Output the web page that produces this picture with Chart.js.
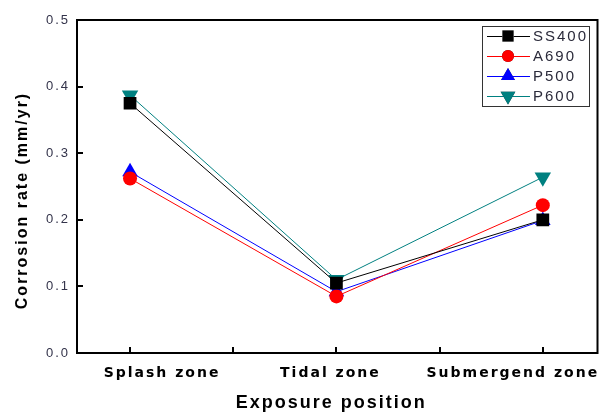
<!DOCTYPE html>
<html>
<head>
<meta charset="utf-8">
<script src="https://cdn.jsdelivr.net/npm/chart.js@4"></script>
<style>
  html, body { margin: 0; padding: 0; background: #fff; }
  #wrap { width: 607px; height: 412px; }
</style>
</head>
<body>
<div id="wrap"><canvas id="rateChart" width="607" height="412"></canvas></div>
<script>
// exposure positions on the x axis
const zones = ["Splash zone", "Tidal zone", "Submergend zone"];
const yTicks = [0.0, 0.1, 0.2, 0.3, 0.4, 0.5];

// corrosion rate (mm/yr) per steel
const ss400 = [0.375, 0.105, 0.200];
const a690 = [0.262, 0.085, 0.222];
const p500 = [0.272, 0.092, 0.199];
const p600 = [0.387, 0.110, 0.264];

const toPoints = (arr) => arr.map((v, i) => ({ x: i + 1, y: v }));

function series(label, data, color, style, radius) {
  return {
    label: label,
    data: toPoints(data),
    borderColor: color,
    backgroundColor: color,
    borderWidth: 1,
    pointStyle: style,
    pointRadius: radius,
    pointHoverRadius: radius,
    pointBorderWidth: 0,
    tension: 0,
  };
}

const datasets = [
  series("SS400", ss400, "#000000", "rect", 9),
  series("A690", a690, "#ff0000", "circle", 7),
  series("P500", p500, "#0000ff", "triangle", 9),
  series("P600", p600, "#008080", "triangle", 9.5),
];
datasets[3].pointRotation = 180;

const sans = "'Liberation Sans', Arial, sans-serif";

// the original uses a wide, letter-spaced typeface
const spacingPlugin = {
  id: "spacing",
  beforeLayout(chart) { chart.ctx.letterSpacing = "2px"; },
  beforeDraw(chart) { chart.ctx.letterSpacing = "2px"; },
};

// frame, inward ticks, category labels (set off the ticks like the original) and axis titles
const framePlugin = {
  id: "frame",
  afterDatasetsDraw(chart) {
    const { ctx, chartArea: a, scales } = chart;
    ctx.save();
    ctx.strokeStyle = "#000";
    ctx.lineWidth = 2;
    ctx.strokeRect(a.left, a.top, a.right - a.left, a.bottom - a.top);
    yTicks.forEach((v) => {
      const y = Math.round(scales.y.getPixelForValue(v));
      ctx.beginPath();
      ctx.moveTo(a.left, y);
      ctx.lineTo(a.left + 6, y);
      ctx.stroke();
    });
    [1, 1.5, 2, 2.5, 3].forEach((v) => {
      const x = Math.round(scales.x.getPixelForValue(v));
      ctx.beginPath();
      ctx.moveTo(x, a.bottom);
      ctx.lineTo(x, a.bottom - 6);
      ctx.stroke();
    });

    ctx.fillStyle = "#000";
    ctx.textAlign = "center";
    ctx.textBaseline = "middle";
    ctx.letterSpacing = "2px";
    ctx.font = "bold 14px 'DejaVu Sans', sans-serif";
    const shift = [32, -6, -30];
    zones.forEach((z, i) => {
      ctx.fillText(z, scales.x.getPixelForValue(i + 1) + shift[i], a.bottom + 20);
    });

    ctx.font = "bold 18px " + sans;
    ctx.fillText("Exposure position", (a.left + a.right) / 2 - 6, 403);

    ctx.translate(23, (a.top + a.bottom) / 2 + 14);
    ctx.rotate(-Math.PI / 2);
    ctx.font = "bold 16px " + sans;
    ctx.fillText("Corrosion rate (mm/yr)", 0, 0);
    ctx.restore();
  },
};

// legend box in the upper right corner
const legendPlugin = {
  id: "boxLegend",
  afterDraw(chart) {
    const ctx = chart.ctx;
    ctx.save();
    ctx.fillStyle = "#fff";
    ctx.fillRect(482, 26, 107, 80);
    ctx.strokeStyle = "#333";
    ctx.lineWidth = 1;
    ctx.strokeRect(482.5, 26.5, 107, 80);
    ctx.font = "15px " + sans;
    ctx.letterSpacing = "2px";
    ctx.textBaseline = "middle";
    datasets.forEach((ds, i) => {
      const y = 36 + i * 20;
      ctx.strokeStyle = ds.borderColor;
      ctx.lineWidth = 1;
      ctx.beginPath();
      ctx.moveTo(487, y + 0.5);
      ctx.lineTo(530, y + 0.5);
      ctx.stroke();
      Chart.helpers.drawPoint(ctx, {
        pointStyle: ds.pointStyle,
        radius: ds.pointRadius - 1,
        rotation: ds.pointRotation || 0,
        borderWidth: 0,
      }, 508, y);
      ctx.fillStyle = ds.backgroundColor;
      ctx.fill();
      ctx.fillStyle = "#2a2a3a";
      ctx.fillText(ds.label, 533, y + 1);
    });
    ctx.restore();
  },
};

const chart = new Chart(document.getElementById("rateChart").getContext("2d"), {
  type: "line",
  data: { datasets: datasets },
  plugins: [spacingPlugin, framePlugin, legendPlugin],
  options: {
    responsive: false,
    animation: false,
    layout: { padding: { left: 0, right: 4, top: 20, bottom: 0 } },
    plugins: { legend: { display: false }, tooltip: { enabled: false } },
    scales: {
      x: {
        type: "linear",
        min: 0.743,
        max: 3.265,
        afterBuildTicks: (s) => { s.ticks = [1, 2, 3].map((v) => ({ value: v })); },
        afterFit: (s) => { s.height = 59; s.paddingLeft = 0; s.paddingRight = 0; },
        grid: { display: false, drawTicks: false },
        border: { display: false },
        ticks: { display: false },
      },
      y: {
        min: 0,
        max: 0.5,
        afterBuildTicks: (s) => { s.ticks = yTicks.map((v) => ({ value: v })); },
        afterFit: (s) => { s.width = 77; },
        grid: { display: false, drawTicks: false },
        border: { display: false },
        ticks: {
          padding: 7,
          color: "#33334a",
          font: { family: sans, size: 13 },
          callback: (v) => Number(v).toFixed(1),
        },
      },
    },
  },
});
</script>
</body>
</html>
